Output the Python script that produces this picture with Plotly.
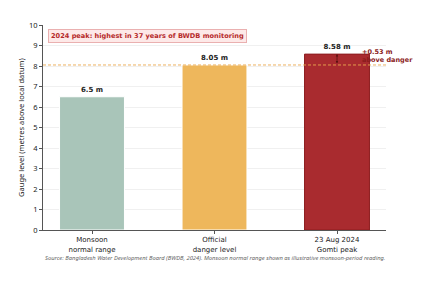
import plotly.graph_objects as go

categories = ["Monsoon<br>normal range", "Official<br>danger level", "23 Aug 2024<br>Gomti peak"]
levels = [6.5, 8.05, 8.58]
labels = ["6.5 m", "8.05 m", "8.58 m"]
colors = ["#a9c5b9", "#eeb75c", "#a92b2f"]
outline = ["#ffffff", "#ffffff", "#8c1d1f"]
danger = 8.05
y_ticks = list(range(0, 11))

fig = go.Figure()
fig.add_trace(go.Bar(
    x=[0, 1, 2], y=levels, width=0.53,
    marker=dict(color=colors, line=dict(color=outline, width=1)),
    text=labels, textposition="outside", cliponaxis=False,
    textfont=dict(family="DejaVu Sans", size=7, color="#222222", weight="bold"),
    hoverinfo="skip",
))
fig.add_shape(type="line", xref="paper", x0=0, x1=1, y0=danger, y1=danger,
              line=dict(color="#eaa94f", width=0.9, dash="3px,2px"))
# gap arrow
fig.add_annotation(x=2, y=levels[2], ax=2, ay=danger, xref="x", yref="y", axref="x", ayref="y",
                   text="", showarrow=True, arrowhead=2, arrowside="end+start",
                   arrowsize=0.6, arrowwidth=0.8, arrowcolor="#5a1010")
fig.add_annotation(x=2.185, y=8.5, xref="x", yref="y", xanchor="left", yanchor="middle",
                   text="+0.53 m<br>above danger", showarrow=False, align="left",
                   font=dict(family="DejaVu Sans", size=6.5, color="#8b1c1c", weight="bold"))
fig.add_annotation(x=0.014, y=0.948, xref="paper", yref="paper", xanchor="left", yanchor="middle",
                   text="2024 peak: highest in 37 years of BWDB monitoring", showarrow=False,
                   font=dict(family="DejaVu Sans", size=6.6, color="#b52a2a", weight="bold"),
                   bgcolor="#fde9e8", bordercolor="#eab0b0", borderwidth=1, borderpad=2)
fig.add_annotation(x=0.5, y=-0.135, xref="paper", yref="paper", xanchor="center", yanchor="middle",
                   text="<i>Source: Bangladesh Water Development Board (BWDB, 2024). Monsoon normal range shown as illustrative monsoon-period reading.</i>",
                   showarrow=False, font=dict(family="Noto Sans", size=5.8, color="#666666"))

fig.update_layout(
    width=429, height=284, margin=dict(l=43, r=43, t=25, b=54),
    plot_bgcolor="white", paper_bgcolor="white", showlegend=False,
    font=dict(family="Noto Sans", color="#222222"),
)
fig.update_xaxes(range=[-0.4, 2.4], tickvals=[0, 1, 2], ticktext=categories,
                 showline=True, linecolor="#555555", linewidth=1, ticks="outside",
                 ticklen=3, tickcolor="#555555", showgrid=False, ticklabelstandoff=0,
                 tickfont=dict(family="DejaVu Sans", size=7, color="#222222"))
fig.update_yaxes(range=[0, 10], tickvals=y_ticks, showline=True, linecolor="#555555",
                 linewidth=1, ticks="outside", ticklen=3, tickcolor="#555555",
                 showgrid=True, gridcolor="#f0f0f0", gridwidth=1, zeroline=False,
                 tickfont=dict(family="Noto Sans", size=7.5, color="#222222"),
                 title=dict(text="Gauge level (metres above local datum)",
                            font=dict(family="Noto Sans", size=7.5, color="#222222"), standoff=3))
fig.write_html("out.html")
